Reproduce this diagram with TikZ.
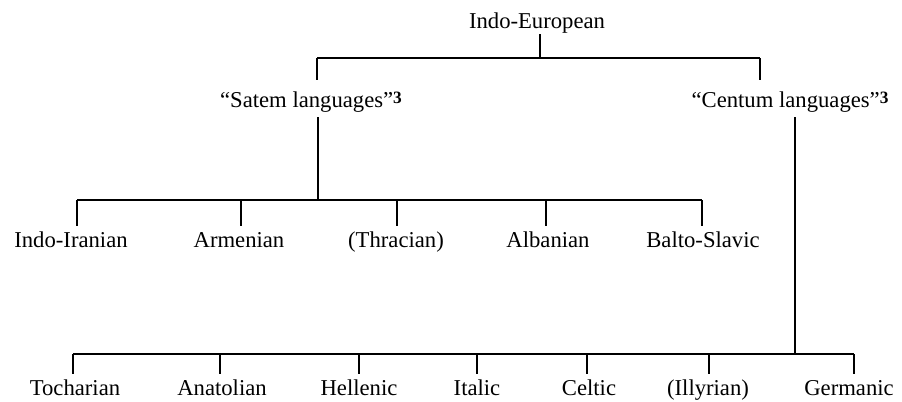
\documentclass[tikz,border=0pt]{standalone}
\usepackage{fontspec}
\setmainfont{Liberation Serif}
\usepackage{tikz}

\newcommand{\fnmark}[1]{\raisebox{3pt}{\fontsize{13}{13}\selectfont\bfseries #1}}
\tikzset{
  lang/.style={anchor=base,inner xsep=0pt,inner ysep=4pt,font=\fontsize{17}{20}\selectfont},
  group/.style={lang,inner ysep=8.5pt},
  bar/.style={line width=2pt},
  stem/.style={line width=1.1pt}
}

\begin{document}
\begin{tikzpicture}[x=0.75pt,y=0.75pt,yscale=-1,xscale=1]
        \useasboundingbox (0,0) rectangle (902,401);

        \node [lang,inner ysep=1pt] (ie) at (537,28) {Indo-European};
        \node [group] (satem) at (311,107) {``Satem languages''\fnmark{3}};
        \node [group] (centum) at (790,107) {``Centum languages''\fnmark{3}};

        \node [lang] (iir) at (71,247) {Indo-Iranian};
        \node [lang] (arm) at (239,247) {Armenian};
        \node [lang] (thr) at (396,247) {(Thracian)};
        \node [lang] (alb) at (548,247) {Albanian};
        \node [lang] (bsl) at (703,247) {Balto-Slavic};

        \node [lang] (toc) at (75,395) {Tocharian};
        \node [lang] (ana) at (222,395) {Anatolian};
        \node [lang] (hel) at (359,395) {Hellenic};
        \node [lang] (ita) at (477,395) {Italic};
        \node [lang] (cel) at (589,395) {Celtic};
        \node [lang] (ill) at (708,395) {(Illyrian)};
        \node [lang] (ger) at (849,395) {Germanic};

        \coordinate (top) at (540,58);
        \coordinate (topl) at (317,58);
        \coordinate (topr) at (760,58);
        \coordinate (sv) at (318,200);
        \coordinate (cv) at (795,354);

        \coordinate (m1) at (77,200);
        \coordinate (m2) at (241,200);
        \coordinate (m3) at (397,200);
        \coordinate (m4) at (546,200);
        \coordinate (m5) at (702,200);

        \coordinate (b1) at (73,354);
        \coordinate (b2) at (220,354);
        \coordinate (b3) at (359,354);
        \coordinate (b4) at (477,354);
        \coordinate (b5) at (587,354);
        \coordinate (b6) at (709,354);
        \coordinate (b7) at (854,354);

        \draw [stem] (ie.south -| top) -- (top);
        \draw [bar] (topl) -- (topr);
        \draw [stem] (topl) -- (topl |- satem.north);
        \draw [stem] (topr) -- (topr |- centum.north);

        \draw [stem, shorten <=-4.5pt] (satem.south -| sv) -- (sv);
        \draw [bar] (m1) -- (m5);
        \draw [stem] (m1) -- (m1 |- iir.north);
        \draw [stem] (m2) -- (m2 |- arm.north);
        \draw [stem] (m3) -- (m3 |- thr.north);
        \draw [stem] (m4) -- (m4 |- alb.north);
        \draw [stem] (m5) -- (m5 |- bsl.north);

        \draw [stem, shorten <=-4.5pt] (centum.south -| cv) -- (cv);
        \draw [bar] (b1) -- (b7);
        \draw [stem] (b1) -- (b1 |- toc.north);
        \draw [stem] (b2) -- (b2 |- ana.north);
        \draw [stem] (b3) -- (b3 |- hel.north);
        \draw [stem] (b4) -- (b4 |- ita.north);
        \draw [stem] (b5) -- (b5 |- cel.north);
        \draw [stem] (b6) -- (b6 |- ill.north);
        \draw [stem] (b7) -- (b7 |- ger.north);
\end{tikzpicture}
\end{document}
